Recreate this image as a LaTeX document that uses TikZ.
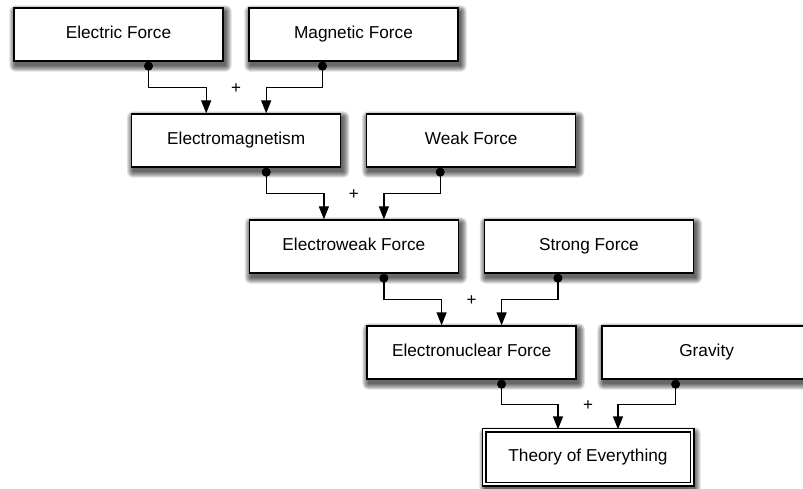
\documentclass[tikz,border=0pt]{standalone}
\usepackage{fontspec}
\setmainfont{Liberation Sans}
\usetikzlibrary{arrows.meta,calc}
\pgfdeclarelayer{background}
\pgfsetlayers{background,main}
\begin{document}
\begin{tikzpicture}[x=1pt,y=-1pt,
  box/.style={draw=black, line width=1.3pt, fill=white, minimum width=209pt, minimum height=53pt, inner sep=0pt,
    text height=12.5pt, text depth=3.6pt,
    font=\fontsize{17.25}{20}\selectfont},
  finalbox/.style={box, double, double distance=2.6pt, line width=1.2pt, minimum width=208pt, minimum height=54pt},
  shadowlayer/.style={fill=black, fill opacity=0.12, draw=none},
  conn/.style={line width=1.3pt, {Circle[length=9pt]}-{Triangle[length=13pt,width=10pt]}},
  plus/.style={font=\fontsize{17}{18}\selectfont, inner sep=0pt}]
\useasboundingbox (0,0) rectangle (803,489);
\clip (0,0) rectangle (803,489);

\node[box] (L0) at (118.5,34.5) {Electric Force};
\node[box] (R0) at (353.5,34.5) {Magnetic Force};
\node[box] (L1) at (236.2,140.5) {Electromagnetism};
\node[box] (R1) at (471.2,140.5) {Weak Force};
\node[box] (L2) at (353.9,246.5) {Electroweak Force};
\node[box] (R2) at (588.9,246.5) {Strong Force};
\node[box] (L3) at (471.6,352.5) {Electronuclear Force};
\node[box] (R3) at (706.6,352.5) {Gravity};
\node[finalbox] (T) at (588,457) {Theory of Everything};

\begin{pgfonlayer}{background}
\foreach \n in {L0,R0,L1,R1,L2,R2,L3,R3,T}{
  \foreach \k in {0,1,...,6}{
    \fill[shadowlayer, rounded corners=\k pt]
      ([shift={(2-\k,4-\k)}]\n.north west) rectangle ([shift={(2+\k,4+\k)}]\n.south east);
  }
}
\end{pgfonlayer}

\foreach \a/\b/\c in {L0/R0/L1, L1/R1/L2, L2/R2/L3, L3/R3/T}{
  \coordinate (s1) at ([xshift=30pt]\a.south);
  \coordinate (s2) at ([xshift=-31pt]\b.south);
  \coordinate (e1) at ([xshift=-30pt]\c.north);
  \coordinate (e2) at ([xshift=30pt]\c.north);
  \coordinate (m) at ($(s1)!0.5!(e1)$);
  \draw[conn] (s1) |- (m) -| (e1);
  \draw[conn] (s2) |- (m -| e2) -- (e2);
  \node[plus] (p) at ([yshift=-1pt]m -| \c.north) {+};
}
\end{tikzpicture}
\end{document}
